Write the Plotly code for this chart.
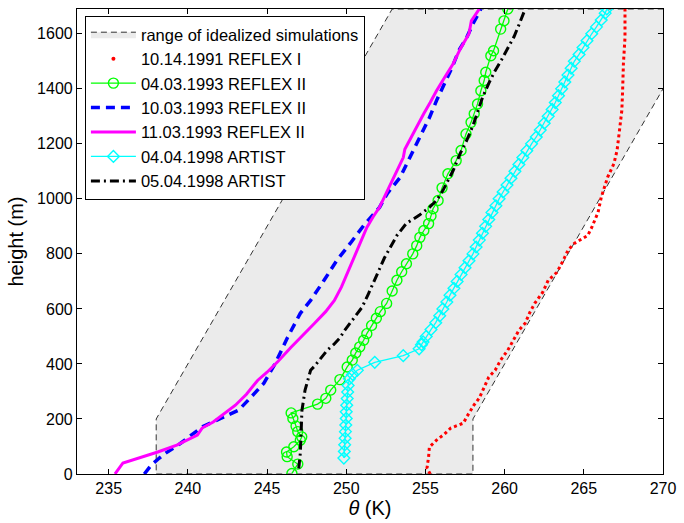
import plotly.graph_objects as go

FONT = "Liberation Sans, Arial, Helvetica, sans-serif"

# envelope of the idealized simulations (theta in K, height in m)
RANGE_THETA = [238, 258, 258, 272.9, 252.9, 238, 238]
RANGE_H = [0, 0, 200, 1690, 1690, 200, 0]

# 10.14.1991 REFLEX I
R91_THETA = [255.3, 255.1, 255.2, 255.25, 255.7, 256.2, 256.6, 257.4, 257.6, 258.06,
             258.4, 258.7, 259.0, 259.4, 259.75, 260.2, 260.5, 260.9, 261.3, 261.6,
             261.9, 262.4, 262.75, 263.3, 263.7, 264.0, 264.4, 264.9, 265.25, 265.5,
             265.7, 265.9, 266.1, 266.3, 266.5, 266.9, 267.1, 267.25, 267.4, 267.45,
             267.5, 267.6, 267.6]
R91_H = [0, 22, 62, 98, 123, 145, 167, 185, 207, 250,
         276, 312, 352, 377, 414, 450, 479, 522, 548, 588,
         620, 660, 704, 733, 776, 813, 838, 856, 867, 896,
         922, 951, 1005, 1041, 1078, 1128, 1176, 1248, 1321, 1393,
         1491, 1586, 1690]

# 04.03.1993 REFLEX II
R0403_THETA = [246.57, 246.94, 246.27, 246.23, 246.69, 247.1, 247.19, 246.94, 246.83, 246.63,
               246.52, 248.19, 248.71, 249.02, 249.6, 250.06, 250.38, 250.6, 250.85, 251.1,
               251.3, 251.6, 251.9, 252.15, 252.55, 252.9, 253.2, 253.5, 253.8, 254.2,
               254.45, 254.65, 254.9, 255.2, 255.35, 255.48, 255.8, 256.05, 256.42, 256.94,
               257.25, 257.56, 257.88, 258.08, 258.29, 258.5, 258.71, 258.81, 259.13, 259.3,
               259.75, 259.96, 260.2]
R0403_H = [2, 36, 63, 80, 99, 123, 135, 154, 174, 202,
           222, 254, 275, 305, 343, 389, 414, 440, 462, 486,
           510, 540, 566, 590, 620, 665, 704, 735, 764, 800,
           830, 860, 885, 910, 938, 964, 994, 1040, 1091, 1139,
           1176, 1236, 1278, 1309, 1345, 1393, 1430, 1460, 1520, 1538,
           1617, 1647, 1690]

# 10.03.1993 REFLEX II
R1003_THETA = [237.25, 237.7, 238.2, 238.6, 239.5, 240.3, 240.9, 242.0, 243.2, 244.0,
               244.8, 245.5, 246.3, 247.1, 247.75, 248.6, 249.4, 250.25, 251.1, 252.1,
               252.6, 253.4, 254.0, 254.4, 254.75, 255.25, 255.7, 256.3, 256.7, 257.1,
               257.6, 258.0, 258.3, 258.5]
R1003_H = [0, 33, 58, 76, 110, 145, 171, 200, 232, 280,
           330, 400, 497, 584, 631, 704, 776, 838, 903, 969,
           1020, 1078, 1150, 1200, 1237, 1295, 1357, 1430, 1480, 1538,
           1586, 1636, 1665, 1690]

# 11.03.1993 REFLEX II
R1103_THETA = [235.4, 235.9, 238.1, 239.3, 240.6, 240.9, 241.6, 243.0, 243.7, 244.4,
               245.0, 245.7, 246.5, 247.3, 248.0, 248.7, 249.25, 249.7, 250.06, 250.4,
               250.7, 251.0, 251.3, 251.7, 252.1, 252.6, 253.0, 253.6, 253.7, 254.0,
               254.4, 254.9, 255.3, 255.7, 256.2, 256.75, 257.2, 257.75, 257.9, 258.4]
R1103_H = [0, 40, 80, 105, 141, 167, 189, 250, 290, 340,
           370, 410, 460, 505, 548, 590, 631, 680, 729, 770,
           813, 855, 896, 935, 969, 1030, 1078, 1150, 1180, 1212,
           1260, 1310, 1350, 1393, 1440, 1491, 1545, 1600, 1647, 1690]

# 04.04.1998 ARTIST
A0404_THETA = [249.85, 249.88, 249.9, 249.93, 249.95, 249.97, 250.0, 250.0, 250.03, 250.06,
               250.09, 250.12, 250.2, 250.4, 250.7, 251.8, 253.6, 254.6, 254.75, 254.85,
               255.05, 255.35, 255.65, 255.9, 256.1, 256.35, 256.55, 256.8, 257.0, 257.25,
               257.5, 257.75, 258.0, 258.2, 258.4, 258.6, 258.8, 259.0, 259.2, 259.45,
               259.65, 259.9, 260.15, 260.4, 260.65, 260.9, 261.15, 261.4, 261.7, 262.0,
               262.25, 262.5, 262.75, 263.0, 263.2, 263.4, 263.6, 263.8, 264.0, 264.2,
               264.4, 264.7, 264.95, 265.2, 265.5, 265.8, 266.1, 266.35, 266.45]
A0404_H = [58, 82, 106, 130, 154, 178, 202, 226, 250, 274,
           298, 322, 346, 362, 377, 406, 430, 455, 470, 480,
           500, 525, 550, 575, 600, 625, 650, 675, 700, 725,
           750, 775, 800, 825, 850, 875, 900, 925, 950, 975,
           1000, 1025, 1050, 1075, 1100, 1125, 1150, 1175, 1200, 1225,
           1250, 1275, 1300, 1325, 1350, 1375, 1400, 1425, 1450, 1475,
           1500, 1525, 1550, 1575, 1600, 1625, 1650, 1675, 1690]

# 05.04.1998 ARTIST
A0504_THETA = [247.0, 247.1, 247.15, 247.2, 247.4, 247.75, 248.0, 248.8, 249.2, 249.6,
               249.9, 250.4, 251.0, 251.4, 251.8, 252.1, 252.4, 252.8, 253.2, 253.8,
               254.6, 255.25, 255.7, 256.1, 256.75, 257.2, 257.6, 258.0, 258.3, 258.6,
               259.0, 259.4, 259.8, 260.2, 260.6, 260.9, 261.3]
A0504_H = [20, 76, 150, 230, 305, 377, 392, 450, 470, 495,
           522, 560, 606, 655, 704, 745, 784, 825, 867, 911,
           940, 969, 994, 1030, 1103, 1165, 1212, 1266, 1320, 1368,
           1420, 1466, 1505, 1545, 1590, 1632, 1690]

X_TICKS = [235, 240, 245, 250, 255, 260, 265, 270]
Y_TICKS = [0, 200, 400, 600, 800, 1000, 1200, 1400, 1600]


def profiles_figure() -> go.Figure:
    fig = go.Figure()

    fig.add_trace(go.Scatter(
        x=RANGE_THETA, y=RANGE_H, mode="lines", fill="toself",
        fillcolor="#ebebeb", line=dict(color="black", width=0.8, dash="6px,4px"),
        name="range of idealized simulations", hoverinfo="skip",
    ))

    # dotted red profile; the legend gets a single dot like the original
    fig.add_trace(go.Scatter(
        x=R91_THETA, y=R91_H, mode="lines",
        line=dict(color="#ff0000", width=3, dash="3px,3px"),
        legendgroup="r91", showlegend=False,
    ))
    fig.add_trace(go.Scatter(
        x=[None], y=[None], mode="markers",
        marker=dict(color="#ff0000", size=4),
        legendgroup="r91", name="10.14.1991 REFLEX I",
    ))

    fig.add_trace(go.Scatter(
        x=R0403_THETA, y=R0403_H, mode="lines+markers",
        line=dict(color="#00ff00", width=1.3),
        marker=dict(symbol="circle-open", size=10, color="#00ff00",
                    line=dict(width=1.4)),
        name="04.03.1993 REFLEX II",
    ))
    fig.add_trace(go.Scatter(
        x=R1003_THETA, y=R1003_H, mode="lines",
        line=dict(color="#0000ff", width=3.5, dash="9px,6px"),
        name="10.03.1993 REFLEX II",
    ))
    fig.add_trace(go.Scatter(
        x=R1103_THETA, y=R1103_H, mode="lines",
        line=dict(color="#ff00ff", width=3),
        name="11.03.1993 REFLEX II",
    ))
    fig.add_trace(go.Scatter(
        x=A0404_THETA, y=A0404_H, mode="lines+markers",
        line=dict(color="#00ffff", width=1.3),
        marker=dict(symbol="diamond-open", size=9, color="#00ffff",
                    line=dict(width=1.4)),
        name="04.04.1998 ARTIST",
    ))
    fig.add_trace(go.Scatter(
        x=A0504_THETA, y=A0504_H, mode="lines",
        line=dict(color="black", width=3, dash="9px,4px,2px,4px"),
        name="05.04.1998 ARTIST",
    ))

    axis_common = dict(
        showgrid=False, zeroline=False, showline=True, linecolor="black",
        linewidth=1.2, mirror="ticks", ticks="inside", ticklen=5,
        tickcolor="black", tickfont=dict(family=FONT, size=16, color="black"),
    )
    fig.update_xaxes(range=[233, 270], tickvals=X_TICKS,
                     title=dict(text="<i>θ</i> (K)", standoff=4,
                                font=dict(family=FONT, size=20, color="black")),
                     **axis_common)
    fig.update_yaxes(range=[0, 1690], tickvals=Y_TICKS,
                     title=dict(text="height (m)", standoff=8,
                                font=dict(family=FONT, size=20, color="black")),
                     **axis_common)

    fig.update_layout(
        width=684, height=523,
        margin=dict(l=77, r=15, t=8, b=49),
        paper_bgcolor="white", plot_bgcolor="white",
        font=dict(family=FONT, color="black"),
        legend=dict(
            x=0.0135, y=0.985, xanchor="left", yanchor="top",
            bgcolor="white", bordercolor="black", borderwidth=1,
            font=dict(family=FONT, size=16.5, color="black"),
            itemwidth=45, tracegroupgap=0,
        ),
    )
    return fig


fig = profiles_figure()
# drop the browser's default body margin so the 684x523 figure fills the window
fig.write_html("out.html",
               config={"displayModeBar": False},
               post_script="document.body.style.margin='0';"
                           "document.body.style.overflow='hidden';")
